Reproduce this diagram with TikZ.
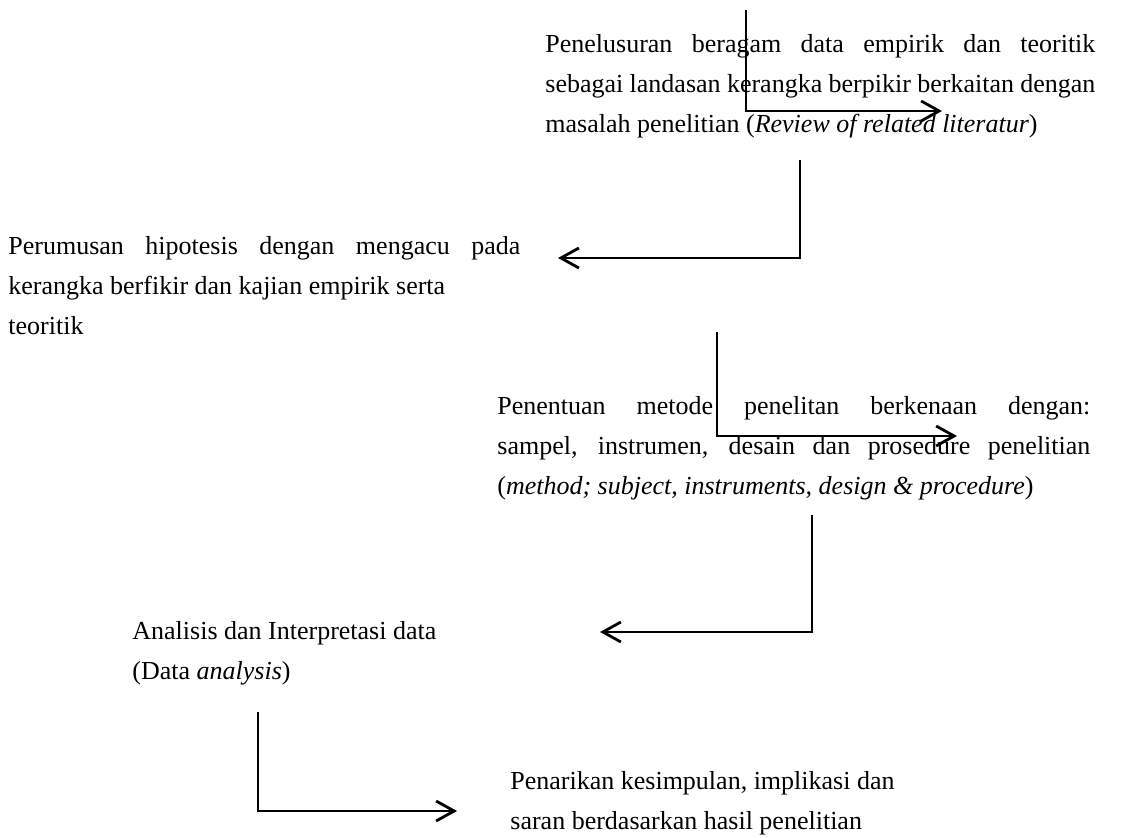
\documentclass[tikz,border=0pt]{standalone}
\usepackage{fontspec}
\setmainfont{Liberation Serif}
\usetikzlibrary{arrows.meta}
\tikzset{>={Straight Barb[length=9pt,width=10pt]}}
\tikzset{
  stage/.style={anchor=north west,inner sep=0pt,
                font=\fontsize{13}{20}\selectfont},
  flow/.style={->,line width=1.4pt},
}

\begin{document}
\begin{tikzpicture}[x=0.5pt,y=-0.5pt]
  \useasboundingbox (0,0) rectangle (1123,838);
  
  % STAGES
  \node[stage,text width=275pt,align=justify] (review) at (545,24)
    {\strut Penelusuran beragam data empirik dan teoritik\linebreak
     sebagai landasan kerangka berpikir berkaitan dengan\linebreak
     masalah penelitian (\textit{Review of related literatur})};
  \node[stage,text width=256pt,align=justify] (hipotesis) at (8,226)
    {\strut Perumusan hipotesis dengan mengacu pada\linebreak
     kerangka berfikir dan kajian empirik serta\newline
     teoritik};
  \node[stage,text width=296.5pt,align=justify] (metode) at (497,386)
    {\strut Penentuan metode penelitan berkenaan dengan:\linebreak
     sampel, instrumen, desain dan prosedure penelitian\linebreak
     (\textit{method; subject, instruments, design \& procedure})};
  \node[stage,align=left] (analisis) at (132,611)
    {\strut Analisis dan Interpretasi data\\
     (Data \textit{analysis})};
  \node[stage,align=left] (simpulan) at (510,761)
    {\strut Penarikan kesimpulan, implikasi dan\\
     saran berdasarkan hasil penelitian};
  
  % ARROWS
  \coordinate (a1s) at (746,10);  \coordinate (a1e) at (942,111);
  \coordinate (a2s) at (800,160); \coordinate (a2e) at (558,258);
  \coordinate (a3s) at (717,332); \coordinate (a3e) at (957,436);
  \coordinate (a4s) at (812,515); \coordinate (a4e) at (600,632);
  \coordinate (a5s) at (258,712); \coordinate (a5e) at (457,811);
  \foreach \i in {1,...,5}{
    \draw[flow] (a\i s) |- (a\i e);
  }
  
\end{tikzpicture}
\end{document}
